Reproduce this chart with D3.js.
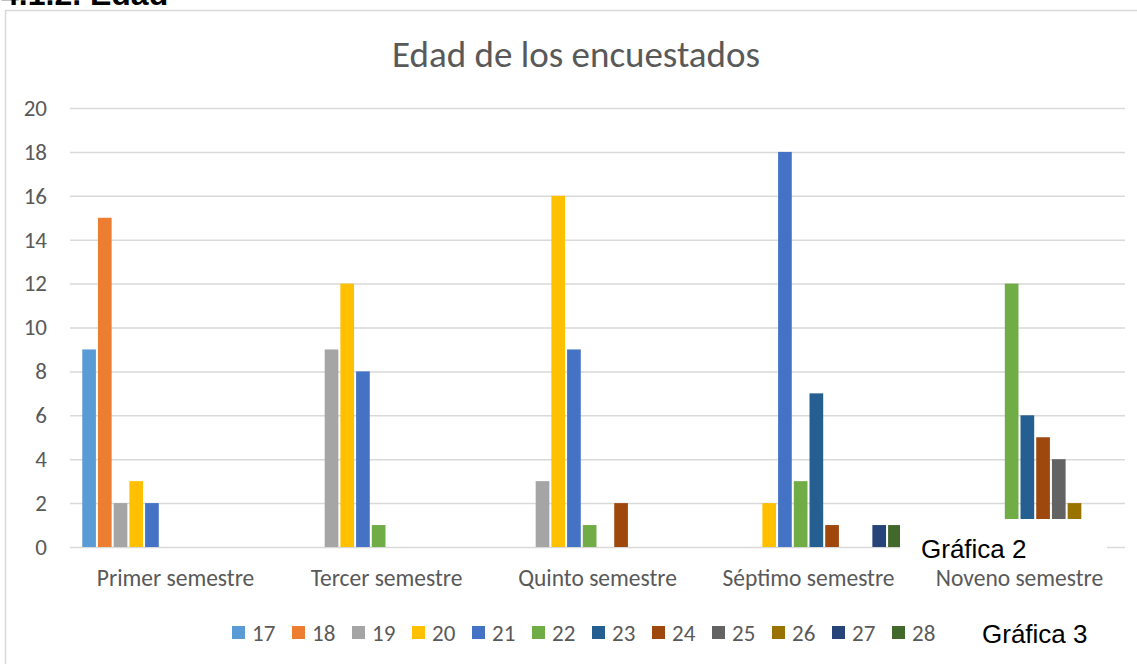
<!DOCTYPE html>
<html>
<head>
<meta charset="utf-8">
<script src="https://cdn.jsdelivr.net/npm/d3@7"></script>
<style>
  body { margin: 0; background: #fff; }
  svg { display: block; }
  .lbl { font-family: Carlito, Lato, sans-serif; fill: #595959; }
  .note { font-family: "Liberation Sans", Arial, sans-serif; fill: #000; }
</style>
</head>
<body>
<svg id="chart" width="1137" height="664"></svg>
<script>
// semestres (grupos del eje X)
const categories = ['Primer semestre', 'Tercer semestre', 'Quinto semestre', 'Séptimo semestre', 'Noveno semestre'];
// edades (series)
const ages = ['17', '18', '19', '20', '21', '22', '23', '24', '25', '26', '27', '28'];
const colors = ['#5B9BD5', '#ED7D31', '#A5A5A5', '#FFC000', '#4472C4', '#70AD47',
                '#255E91', '#9E480E', '#636363', '#997300', '#264478', '#43682B'];
// cantidad de encuestados por edad, una fila por semestre
const primer  = [9, 15, 2, 3, 2, 0, 0, 0, 0, 0, 0, 0];
const tercer  = [0, 0, 9, 12, 8, 1, 0, 0, 0, 0, 0, 0];
const quinto  = [0, 0, 3, 16, 9, 1, 0, 2, 0, 0, 0, 0];
const septimo = [0, 0, 0, 2, 18, 3, 7, 1, 0, 0, 1, 1];
const noveno  = [0, 0, 0, 0, 0, 12, 6, 5, 4, 2, 0, 0];
const yTicks = [0, 2, 4, 6, 8, 10, 12, 14, 16, 18, 20];

const rows = [primer, tercer, quinto, septimo, noveno];

const svg = d3.select('#chart');

// heading cut at the top of the page (as in the source document)
svg.append('text')
  .attr('class', 'note')
  .attr('x', 1).attr('y', 5)
  .attr('font-size', 32).attr('font-weight', 'bold')
  .text('4.1.2. Edad');

// chart frame (runs off the right and bottom)
svg.append('rect')
  .attr('x', 5.5).attr('y', 10.5)
  .attr('width', 1200).attr('height', 700)
  .attr('fill', '#fff').attr('stroke', '#d9d9d9').attr('stroke-width', 1.5);

const plotL = 70, plotR = 1125, plotT = 108, plotB = 547;

const x0 = d3.scaleBand().domain(categories).range([plotL, plotR]).padding(0);
const x1 = d3.scaleBand().domain(ages).range([0, x0.bandwidth()])
  .paddingInner(0.13).paddingOuter(0.78);
const y = d3.scaleLinear().domain([0, 20]).range([plotB, plotT]);
const color = d3.scaleOrdinal().domain(ages).range(colors);

// title
svg.append('text')
  .attr('class', 'lbl')
  .attr('x', 576).attr('y', 67)
  .attr('text-anchor', 'middle')
  .attr('font-size', 37)
  .text('Edad de los encuestados');

// y axis + gridlines
const yAxis = svg.append('g')
  .attr('transform', `translate(${plotL},0)`)
  .call(d3.axisLeft(y).tickValues(yTicks).tickSize(-(plotR - plotL)).tickPadding(23));
yAxis.select('.domain').remove();
yAxis.selectAll('line').attr('stroke', '#d9d9d9').attr('stroke-width', 1.5);
yAxis.selectAll('text').attr('class', 'lbl').attr('font-size', 23).attr('fill', '#595959');

// x axis labels
const xAxis = svg.append('g')
  .attr('transform', `translate(0,${plotB})`)
  .call(d3.axisBottom(x0).tickSize(0).tickPadding(22));
xAxis.select('.domain').remove();
xAxis.selectAll('text').attr('class', 'lbl').attr('font-size', 23.5).attr('fill', '#595959');

// bars
const groups = svg.append('g').selectAll('g')
  .data(rows)
  .join('g')
  .attr('transform', (d, i) => `translate(${x0(categories[i])},0)`);

groups.selectAll('rect')
  .data(d => d.map((v, j) => ({ age: ages[j], value: v })).filter(e => e.value > 0))
  .join('rect')
  .attr('x', d => x1(d.age))
  .attr('width', x1.bandwidth())
  .attr('y', d => y(d.value))
  .attr('height', d => y(0) - y(d.value))
  .attr('fill', d => color(d.age));

// pasted caption box that hides part of the chart
svg.append('rect')
  .attr('x', 900).attr('y', 519)
  .attr('width', 207).attr('height', 48)
  .attr('fill', '#fff');
svg.append('text')
  .attr('class', 'note')
  .attr('x', 921).attr('y', 558)
  .attr('font-size', 26)
  .text('Gráfica 2');

// legend
const legend = svg.append('g').selectAll('g')
  .data(ages)
  .join('g')
  .attr('transform', (d, i) => `translate(${232 + i * 60},626)`);
legend.append('rect')
  .attr('width', 13).attr('height', 13)
  .attr('fill', d => color(d));
legend.append('text')
  .attr('class', 'lbl')
  .attr('x', 20).attr('y', 7)
  .attr('dy', '0.35em')
  .attr('font-size', 23)
  .text(d => d);

svg.append('text')
  .attr('class', 'note')
  .attr('x', 982).attr('y', 643)
  .attr('font-size', 26)
  .text('Gráfica 3');
</script>
</body>
</html>
